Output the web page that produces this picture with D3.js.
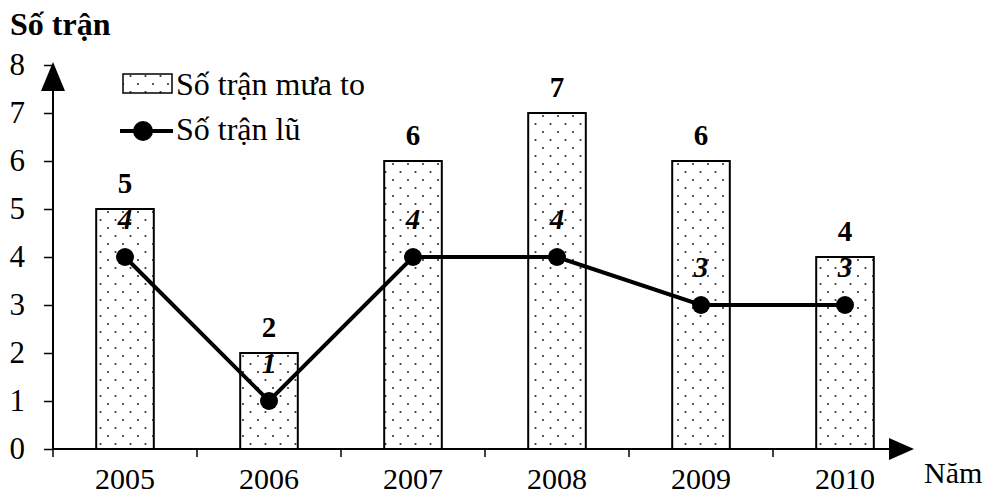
<!DOCTYPE html>
<html>
<head>
<meta charset="utf-8">
<script src="https://cdn.jsdelivr.net/npm/d3@7"></script>
<style>
  body { margin: 0; background: #fff; }
  text { font-family: "Liberation Serif", "Times New Roman", "DejaVu Serif", serif; fill: #000; }
</style>
</head>
<body>
<div id="chart"></div>
<script>
// chart data
const years = ["2005", "2006", "2007", "2008", "2009", "2010"];
const heavyRain = [5, 2, 6, 7, 6, 4];   // Số trận mưa to
const floods = [4, 1, 4, 4, 3, 3];      // Số trận lũ
const yTicks = [0, 1, 2, 3, 4, 5, 6, 7, 8];

const W = 987, H = 498;
const svg = d3.select("#chart").append("svg")
    .attr("width", W)
    .attr("height", H);

//Dotted fill for the bars
const defs = svg.append("defs");
const pat = defs.append("pattern")
    .attr("id", "dots")
    .attr("patternUnits", "userSpaceOnUse")
    .attr("width", 15).attr("height", 16);
pat.append("rect").attr("width", 15).attr("height", 16).attr("fill", "#fff");
pat.append("circle").attr("cx", 3).attr("cy", 4).attr("r", 1.1).attr("fill", "#333");
pat.append("circle").attr("cx", 10.5).attr("cy", 12).attr("r", 1.1).attr("fill", "#333");

const x0 = 53, x1 = 917;
const xScale = d3.scaleBand()
    .domain(years)
    .range([x0, x1])
    .paddingInner(0.6)
    .paddingOuter(0.3);

const xCat = d3.scaleBand()
    .domain(years)
    .range([x0, x1]);

const yScale = d3.scaleLinear()
    .domain([0, 8])
    .range([449, 65]);

//Bars
svg.selectAll("rect.bar")
    .data(years)
    .enter().append("rect")
    .attr("class", "bar")
    .attr("x", d => xScale(d))
    .attr("y", (d, i) => yScale(heavyRain[i]))
    .attr("width", xScale.bandwidth())
    .attr("height", (d, i) => yScale(0) - yScale(heavyRain[i]))
    .attr("fill", "url(#dots)")
    .attr("stroke", "#000")
    .attr("stroke-width", 2);

//Bar value labels
svg.selectAll("text.barval")
    .data(years)
    .enter().append("text")
    .attr("class", "barval")
    .attr("x", d => xCat(d) + xCat.bandwidth() / 2)
    .attr("y", (d, i) => yScale(heavyRain[i]) - 16)
    .attr("text-anchor", "middle")
    .attr("font-size", 29)
    .attr("font-weight", "bold")
    .text((d, i) => heavyRain[i]);

//Y axis
const yAxis = svg.append("g")
    .attr("transform", "translate(" + x0 + ",0)")
    .call(d3.axisLeft(yScale).tickValues(yTicks).tickSize(9).tickPadding(19).tickFormat(d3.format("d")));
yAxis.select(".domain").remove();
yAxis.selectAll("line").attr("stroke", "#000").attr("stroke-width", 1.5);
yAxis.selectAll("text").attr("font-size", 31).attr("font-family", "Liberation Serif");

svg.append("line")
    .attr("x1", x0).attr("x2", x0)
    .attr("y1", yScale(0)).attr("y2", 85)
    .attr("stroke", "#000").attr("stroke-width", 2);
svg.append("path")
    .attr("d", "M" + x0 + ",62 L" + (x0 - 12) + ",91 L" + (x0 + 12) + ",91 Z")
    .attr("fill", "#000");

//X axis
const xAxis = svg.append("g")
    .attr("transform", "translate(0," + yScale(0) + ")")
    .call(d3.axisBottom(xCat).tickSize(0).tickPadding(19));
xAxis.select(".domain").remove();
xAxis.selectAll("text").attr("font-size", 30).attr("font-family", "Liberation Serif");

// tick marks between categories
svg.selectAll("line.xtick")
    .data(years)
    .enter().append("line")
    .attr("class", "xtick")
    .attr("x1", d => xCat(d)).attr("x2", d => xCat(d))
    .attr("y1", yScale(0)).attr("y2", yScale(0) + 8)
    .attr("stroke", "#000").attr("stroke-width", 1.5);

svg.append("line")
    .attr("x1", x0).attr("x2", 895)
    .attr("y1", yScale(0)).attr("y2", yScale(0))
    .attr("stroke", "#000").attr("stroke-width", 2);
svg.append("path")
    .attr("d", "M914," + yScale(0) + " L889," + (yScale(0) - 11) + " L889," + (yScale(0) + 11) + " Z")
    .attr("fill", "#000");

//Line graph
const lineGraph = d3.line()
    .x(d => xCat(d) + xCat.bandwidth() / 2)
    .y((d, i) => yScale(floods[i]));

svg.append("path")
    .datum(years)
    .attr("d", lineGraph)
    .attr("fill", "none")
    .attr("stroke", "#000")
    .attr("stroke-width", 4);

svg.selectAll("circle.pt")
    .data(years)
    .enter().append("circle")
    .attr("class", "pt")
    .attr("cx", d => xCat(d) + xCat.bandwidth() / 2)
    .attr("cy", (d, i) => yScale(floods[i]))
    .attr("r", 9)
    .attr("fill", "#000");

svg.selectAll("text.ptval")
    .data(years)
    .enter().append("text")
    .attr("class", "ptval")
    .attr("x", d => xCat(d) + xCat.bandwidth() / 2)
    .attr("y", (d, i) => yScale(floods[i]) - 28)
    .attr("text-anchor", "middle")
    .attr("font-size", 29)
    .attr("font-style", "italic")
    .attr("font-weight", "bold")
    .attr("fill", "#333")
    .text((d, i) => floods[i]);

//Titles
svg.append("text")
    .attr("x", 10).attr("y", 35)
    .attr("font-size", 32)
    .attr("font-weight", "bold")
    .text("Số trận");

svg.append("text")
    .attr("x", 924).attr("y", 483)
    .attr("font-size", 30)
    .text("Năm");

//Legend
svg.append("rect")
    .attr("x", 123).attr("y", 74)
    .attr("width", 49).attr("height", 19)
    .attr("fill", "url(#dots)")
    .attr("stroke", "#000").attr("stroke-width", 1.5);
svg.append("text")
    .attr("x", 176).attr("y", 95)
    .attr("font-size", 32)
    .text("Số trận mưa to");

svg.append("line")
    .attr("x1", 120).attr("x2", 173)
    .attr("y1", 131).attr("y2", 131)
    .attr("stroke", "#000").attr("stroke-width", 4);
svg.append("circle")
    .attr("cx", 143).attr("cy", 131).attr("r", 10)
    .attr("fill", "#000");
svg.append("text")
    .attr("x", 176).attr("y", 140)
    .attr("font-size", 32)
    .text("Số trận lũ");
</script>
</body>
</html>
